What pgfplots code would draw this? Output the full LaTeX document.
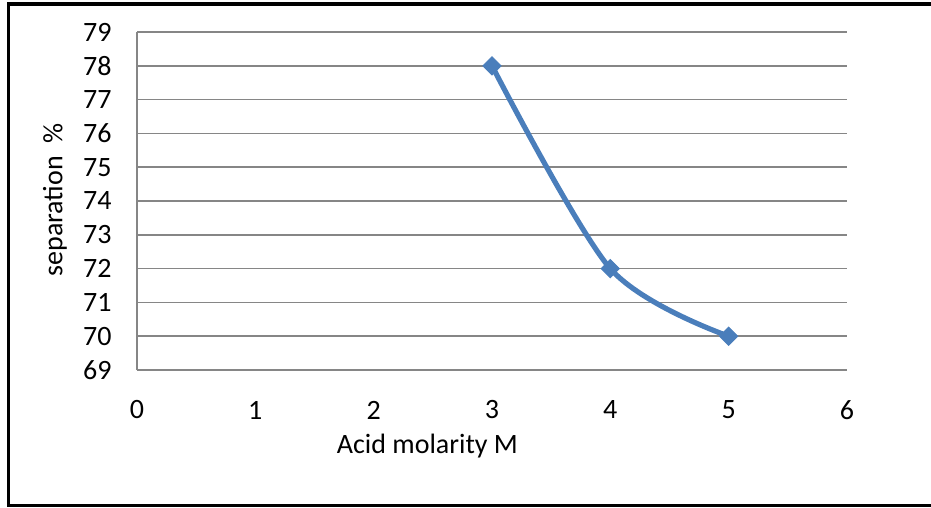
\documentclass[border=0pt]{standalone}
\usepackage{pgfplots}
\pgfplotsset{compat=1.18}
\usepackage{fontspec}
\setmainfont{Carlito}
\definecolor{seriesblue}{HTML}{4A7EBB}
\definecolor{gridgray}{HTML}{868686}
\begin{document}
\fontsize{14}{17}\selectfont
\begin{tikzpicture}
\useasboundingbox (0,0) rectangle (465.5pt,-254pt);
% outer frame (right edge lies outside the picture)
\draw[line width=1.6pt] (470pt,-2pt) -- (4.25pt,-2pt) -- (4.25pt,-252.75pt) -- (470pt,-252.75pt);
\begin{axis}[
    at={(68.5pt,-185pt)}, anchor=south west,
    width=355pt, height=169pt, scale only axis,
    xmin=0, xmax=6, ymin=69, ymax=79,
    xtick={0,1,2,3,4,5,6},
    ytick={69,70,71,72,73,74,75,76,77,78,79},
    axis x line*=bottom, axis y line*=left,
    axis line style={gridgray, line width=0.75pt},
    ymajorgrids, grid style={gridgray, line width=0.75pt},
    tick style={draw=none}, major tick length=0pt,
    /pgf/number format/assume math mode=true,
    xticklabel style={anchor=center, inner sep=0pt, yshift=-20pt},
    yticklabel style={anchor=east, inner sep=0pt, xshift=-12.5pt},
    xlabel={Acid molarity M},
    ylabel={separation~~\%},
    xlabel style={at={(axis description cs:0.409,-0.2456)}, anchor=base},
    ylabel style={at={(axis description cs:-0.1155,0.503)}, anchor=center},
  ]
  \addplot[seriesblue, line width=2.6pt, smooth, mark=square*,
    mark size=3.2pt, mark options={solid, rotate=45, line width=0.5pt}]
    coordinates {(3,78) (4,72) (5,70)};
\end{axis}
\end{tikzpicture}
\end{document}
